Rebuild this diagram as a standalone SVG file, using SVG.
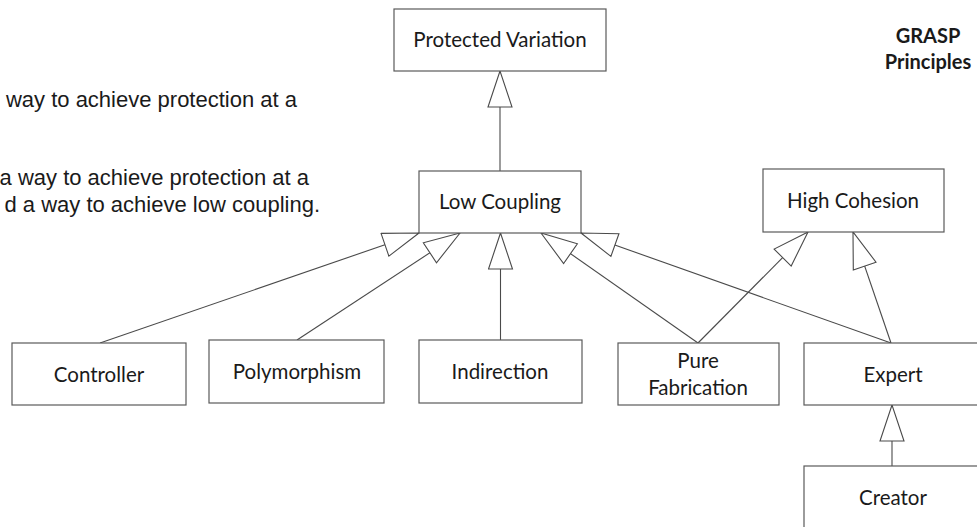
<svg xmlns="http://www.w3.org/2000/svg" width="977" height="527" viewBox="0 0 977 527">
<style>
  .box { fill: #ffffff; stroke: #5a5a5a; stroke-width: 1.2; }
  .lbl { font-family: Lato, "Open Sans", sans-serif; font-size: 20.5px; fill: #1a1a1a; text-anchor: middle; }
  .ttl { font-family: Lato, "Open Sans", sans-serif; font-size: 20px; font-weight: bold; fill: #1a1a1a; text-anchor: middle; }
  .note { font-family: "Liberation Sans", Arial, sans-serif; font-size: 22px; fill: #1a1a1a; text-anchor: end; }
  .edge { fill: none; stroke: #4a4a4a; stroke-width: 1.1; marker-end: url(#gen); }
</style>
<defs>
  <marker id="gen" markerUnits="userSpaceOnUse" viewBox="-1 -1 38 26" refX="36" refY="12" markerWidth="38" markerHeight="26" orient="auto">
    <path d="M36,12 L0,0 L0,24 Z" fill="#ffffff" stroke="#4a4a4a" stroke-width="1.1"/>
  </marker>
</defs>
<rect width="977" height="527" fill="#ffffff"/>

<g id="notes">
  <text class="note" x="297" y="107">way to achieve protection at a</text>
  <text class="note" x="309" y="185">a way to achieve protection at a</text>
  <text class="note" x="320" y="212">d a way to achieve low coupling.</text>
</g>

<g id="title">
  <text class="ttl" x="928" y="43">GRASP</text>
  <text class="ttl" x="928" y="69">Principles</text>
</g>

<g id="connectors">
  <path class="edge" d="M500,171 L500,71"/>
  <path class="edge" d="M100,343 L419,233"/>
  <path class="edge" d="M297,340 L460,233"/>
  <path class="edge" d="M500.5,340 L500.5,233"/>
  <path class="edge" d="M698,343 L541,233"/>
  <path class="edge" d="M891,343 L581,233"/>
  <path class="edge" d="M698,343 L808,232"/>
  <path class="edge" d="M891,343 L853,232"/>
  <path class="edge" d="M892,466 L892,405"/>
</g>

<g id="protected-variation">
  <rect class="box" x="394" y="9" width="212" height="62"/>
  <text class="lbl" x="500" y="47">Protected Variation</text>
</g>
<g id="low-coupling">
  <rect class="box" x="419" y="171" width="162" height="62"/>
  <text class="lbl" x="500" y="209">Low Coupling</text>
</g>
<g id="high-cohesion">
  <rect class="box" x="763" y="169" width="181" height="63"/>
  <text class="lbl" x="853" y="208">High Cohesion</text>
</g>
<g id="controller">
  <rect class="box" x="12" y="343" width="174" height="62"/>
  <text class="lbl" x="99" y="382">Controller</text>
</g>
<g id="polymorphism">
  <rect class="box" x="209" y="340" width="175" height="63"/>
  <text class="lbl" x="297" y="379">Polymorphism</text>
</g>
<g id="indirection">
  <rect class="box" x="419" y="340" width="163" height="63"/>
  <text class="lbl" x="500" y="379">Indirection</text>
</g>
<g id="pure-fabrication">
  <rect class="box" x="618" y="343" width="161" height="62"/>
  <text class="lbl" x="698" y="368">Pure</text>
  <text class="lbl" x="698" y="395">Fabrication</text>
</g>
<g id="expert">
  <rect class="box" x="804" y="343" width="180" height="62"/>
  <text class="lbl" x="893" y="382">Expert</text>
</g>
<g id="creator">
  <rect class="box" x="804" y="466" width="180" height="70"/>
  <text class="lbl" x="893" y="505">Creator</text>
</g>
</svg>
